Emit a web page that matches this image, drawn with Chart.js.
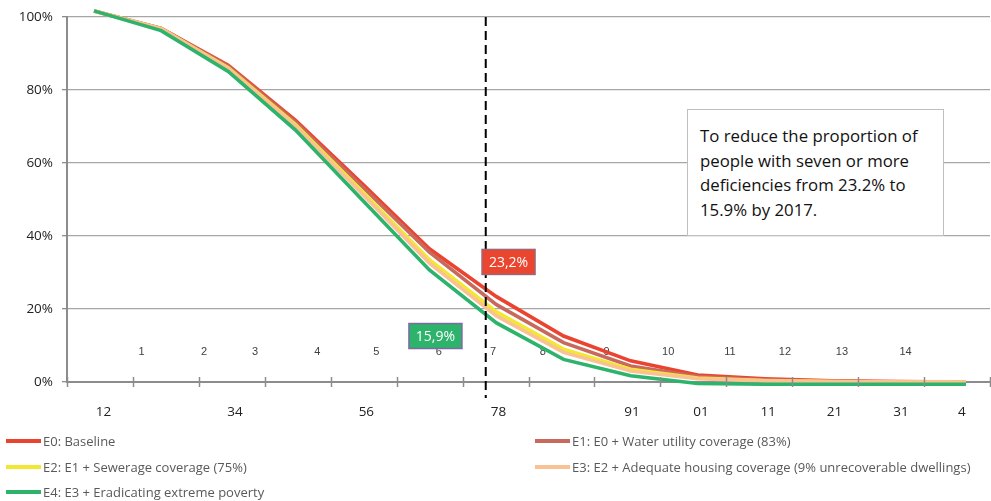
<!DOCTYPE html>
<html>
<head>
<meta charset="utf-8">
<script src="https://cdn.jsdelivr.net/npm/chart.js@4/dist/chart.umd.min.js"></script>
<style>
  html, body { margin:0; padding:0; background:#fff; }
  #wrap { position:relative; width:991px; height:501px; overflow:hidden; }
  canvas { position:absolute; left:0; top:0; }
  .note { position:absolute; left:687px; top:109px; width:257px; height:127px; border:1px solid #BFBFBF; background:#fff;
          font-family:"Open Sans", sans-serif; font-size:16.8px; line-height:24.5px; color:#111; box-sizing:border-box; padding:14px 8px 0 12px; }
  .leg { position:absolute; font-family:"Open Sans", sans-serif; font-size:13px; color:#595959; white-space:nowrap; display:flex; align-items:center; }
  .leg i { display:inline-block; width:35px; height:4px; margin-right:2px; }
</style>
</head>
<body>
<div id="wrap">
<canvas id="c" width="991" height="501"></canvas>
<div class="note">To reduce the proportion of people with seven or more deficiencies from 23.2% to 15.9% by 2017.</div>
<div id="legend"></div>
</div>
<script>
// ---- data ----
const xValues = [1,2,3,4,5,6,7,8,9,10,11,12,13,14];
const seriesNames = [
  "E0: Baseline",
  "E1: E0 + Water utility coverage (83%)",
  "E2: E1 + Sewerage coverage (75%)",
  "E3: E2 + Adequate housing coverage (9% unrecoverable dwellings)",
  "E4: E3 + Eradicating extreme poverty"
];
const e0 = [101.7, 96.9, 86.8, 71.8, 54.3, 36.5, 23.4, 12.6, 5.8, 1.9, 0.9, 0.3, 0.1, 0.0];
const e1 = [101.7, 96.9, 86.5, 71.3, 53.5, 35.6, 21.2, 10.8, 4.4, 1.5, 0.6, 0.2, 0.0, 0.0];
const e2 = [101.7, 96.8, 86.1, 70.6, 52.2, 33.5, 19.2, 9.0, 3.5, 1.1, 0.4, 0.1, 0.0, 0.0];
const e3 = [101.7, 96.8, 85.9, 70.2, 51.5, 32.6, 18.1, 8.1, 3.0, 0.9, 0.3, 0.1, 0.0, 0.0];
const e4 = [101.7, 96.3, 85.1, 69.1, 49.9, 30.7, 16.2, 6.2, 1.7, -0.4, -0.6, -0.6, -0.6, -0.6];
const seriesColors = ["#EA4430", "#C8695E", "#F2E832", "#FAC193", "#2DB36B"];

// x axis tick labels (as printed) and where they sit on the x scale
const xTickLabels = ["12", "34", "56", "78", "91", "01", "11", "21", "31", "4"];
const xTickPos    = [1.14, 3.10, 5.06, 7.03, 9.02, 10.05, 11.05, 12.04, 13.03, 13.94];

// small numbers inside the plot
const innerLabels = ["1","2","3","4","5","6","7","8","9","10","11","12","13","14"];
const innerPos    = [1.71, 2.64, 3.40, 4.33, 5.21, 6.14, 6.95, 7.69, 8.64, 9.56, 10.48, 11.30, 12.15, 13.10];
const innerY = 8.3;

// reference line and callouts
const refX = 6.84;
const callouts = [
  { text: "23,2%", x: 7.18, y: 32.9, fill: "#E9452F", border: "#9C6678" },
  { text: "15,9%", x: 6.09, y: 12.6, fill: "#2DB36B", border: "#7E6AA2" }
];

const yTicks = [0, 20, 40, 60, 80, 100];

// ---- chart ----
const allSeries = [e0, e1, e2, e3, e4];
const datasets = allSeries.map((s, i) => ({
  label: seriesNames[i],
  data: s.map((v, k) => ({ x: xValues[k], y: v })),
  borderColor: seriesColors[i],
  backgroundColor: seriesColors[i],
  borderWidth: 3.6,
  pointRadius: 0,
  tension: 0,
  clip: false,
  order: 4 - i
}));

const extras = {
  id: "extras",
  beforeDatasetsDraw(chart) {
    const { ctx, scales: { x, y } } = chart;
    ctx.save();
    ctx.font = "11px 'Liberation Sans', Arial, sans-serif";
    ctx.fillStyle = "#404040";
    ctx.textAlign = "center";
    ctx.textBaseline = "middle";
    innerLabels.forEach((t, i) => ctx.fillText(t, x.getPixelForValue(innerPos[i]), y.getPixelForValue(innerY)));
    ctx.restore();
  },
  afterDatasetsDraw(chart) {
    const { ctx, chartArea: ca, scales: { x, y } } = chart;
    ctx.save();
    // tick marks on x axis
    ctx.strokeStyle = "#8C8C8C";
    ctx.lineWidth = 1.5;
    for (let k = 0; k <= 14; k++) {
      const px = Math.round(ca.left + k * (ca.right - ca.left) / 14) + 0.5;
      ctx.beginPath(); ctx.moveTo(px, ca.bottom - 5); ctx.lineTo(px, ca.bottom + 5); ctx.stroke();
    }
    // dashed reference line
    const rx = x.getPixelForValue(refX);
    ctx.strokeStyle = "#000";
    ctx.lineWidth = 2;
    ctx.setLineDash([9, 5]);
    ctx.beginPath(); ctx.moveTo(rx, y.getPixelForValue(100)); ctx.lineTo(rx, ca.bottom + 16); ctx.stroke();
    ctx.setLineDash([]);
    // callouts
    ctx.font = "14px 'Open Sans', sans-serif";
    ctx.textAlign = "center";
    ctx.textBaseline = "middle";
    callouts.forEach(c => {
      const cx = x.getPixelForValue(c.x), cy = y.getPixelForValue(c.y);
      const w = 53, h = 25;
      ctx.fillStyle = c.fill;
      ctx.fillRect(cx - w / 2, cy - h / 2, w, h);
      ctx.strokeStyle = c.border;
      ctx.lineWidth = 1.5;
      ctx.strokeRect(cx - w / 2, cy - h / 2, w, h);
      ctx.fillStyle = "#fff";
      ctx.fillText(c.text, cx, cy + 1);
    });
    ctx.restore();
  }
};

new Chart(document.getElementById("c"), {
  type: "line",
  data: { datasets },
  options: {
    responsive: false,
    animation: false,
    layout: { padding: { top: 14, right: 1, left: 0, bottom: 0 } },
    plugins: { legend: { display: false }, tooltip: { enabled: false } },
    scales: {
      x: {
        type: "linear",
        min: 0.597, max: 14.358,
        afterBuildTicks: (s) => { s.ticks = xTickPos.map(v => ({ value: v })); },
        afterFit: (s) => { s.height = 119; },
        grid: { display: false },
        border: { display: true, color: "#8C8C8C", width: 2 },
        ticks: {
          autoSkip: false, maxRotation: 0, padding: 14,
          font: { family: "'Open Sans', sans-serif", size: 13.5 },
          color: "#222",
          callback: (v, i) => xTickLabels[i]
        }
      },
      y: {
        min: 0, max: 100,
        afterBuildTicks: (s) => { s.ticks = yTicks.map(v => ({ value: v })); },
        afterFit: (s) => { s.width = 67; },
        grid: { color: "#A6A6A6", lineWidth: 1.3, tickLength: 5, tickColor: "#8C8C8C" },
        border: { display: true, color: "#8C8C8C", width: 2 },
        ticks: {
          padding: 9,
          font: { family: "'Open Sans', sans-serif", size: 13.5 },
          color: "#222",
          callback: (v) => v + "%"
        }
      }
    }
  },
  plugins: [extras]
});

// legend (HTML)
const legPos = [[6, 441], [535, 441], [6, 467], [535, 467], [6, 492]];
const legEl = document.getElementById("legend");
seriesNames.forEach((n, i) => {
  const d = document.createElement("div");
  d.className = "leg";
  d.style.left = legPos[i][0] + "px";
  d.style.top = (legPos[i][1] - 9) + "px";
  d.style.height = "18px";
  d.innerHTML = '<i style="background:' + seriesColors[i] + '"></i>' + n;
  legEl.appendChild(d);
});
</script>
</body>
</html>
